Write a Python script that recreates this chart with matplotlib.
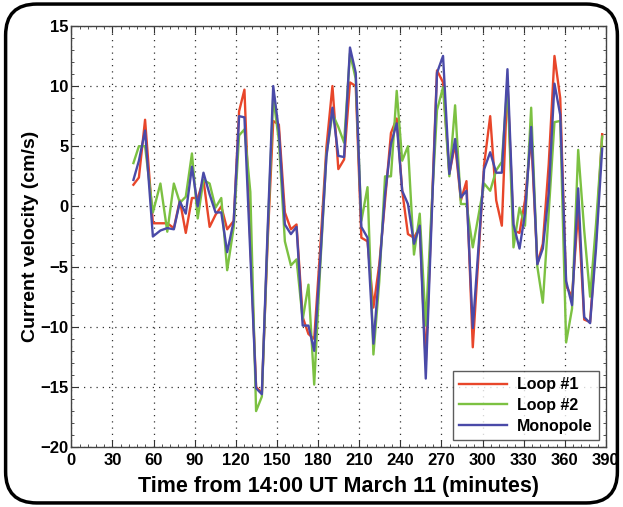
import matplotlib
matplotlib.use("Agg")
import matplotlib.pyplot as plt
from matplotlib.patches import FancyBboxPatch
from matplotlib.ticker import MultipleLocator

plt.rcParams['font.family'] = ['Liberation Sans', 'DejaVu Sans']
plt.rcParams['font.weight'] = 'bold'

time_min = [45.3, 49.3, 53.8, 59.5, 65.0, 70.0, 74.8, 79.2, 83.5, 88.0,
            92.2, 96.4, 100.9, 105.2, 109.4, 113.7, 118.5, 122.4, 126.3, 130.6,
            134.8, 139.0, 143.2, 147.3, 151.4, 155.8, 160.2, 164.3, 168.8, 173.0,
            177.2, 181.6, 186.1, 190.5, 194.8, 199.0, 203.3, 207.5, 211.6, 216.1,
            220.4, 224.7, 228.9, 233.2, 237.4, 241.4, 245.6, 250.0, 254.2, 258.6,
            262.7, 266.8, 271.2, 275.8, 280.0, 284.2, 288.3, 292.9, 297.0, 301.2,
            305.6, 310.0, 314.1, 318.2, 322.6, 327.0, 331.0, 335.5, 340.0, 344.0,
            348.3, 352.5, 356.7, 361.0, 365.3, 369.8, 374.2, 378.5, 382.8, 387.3]

loop1 = [1.8, 2.4, 7.2, -1.4, -1.4, -1.4, -1.8, 0.5, -2.2, 0.7,
         0.7, 2.2, -1.7, -0.7, 0.0, -1.9, -1.2, 7.9, 9.7, -3.0,
         -15.0, -15.5, -3.0, 7.1, 6.8, -0.5, -1.9, -1.5, -9.2, -10.6,
         -11.0, -3.5, 4.9, 10.0, 3.1, 3.9, 10.3, 10.0, -2.6, -2.9,
         -8.4, -4.8, 0.5, 6.1, 7.3, 1.3, -2.3, -2.6, -1.7, -13.0,
         -1.0, 11.3, 10.3, 2.7, 5.2, 0.5, 2.1, -11.7, -4.2, 3.5,
         7.5, 0.5, -1.6, 10.4, -2.0, -2.2, 0.5, 5.8, -4.8, -3.1,
         3.5, 12.5, 9.0, -6.6, -7.5, -0.3, -9.4, -9.6, -2.8, 6.0]

loop2 = [3.6, 5.0, 5.0, -0.5, 1.9, -2.1, 1.9, 0.3, 0.8, 4.4,
         -1.0, 2.2, 1.9, -0.1, 0.7, -5.3, -1.7, 5.9, 6.4, 1.2,
         -17.0, -15.8, -2.5, 9.1, 5.5, -2.9, -4.9, -4.4, -9.4, -6.5,
         -14.8, -5.0, 4.3, 7.7, 6.6, 5.3, 12.7, 10.6, -1.2, 1.6,
         -12.3, -6.2, 2.5, 2.5, 9.6, 3.8, 5.0, -4.0, -0.6, -9.9,
         -0.5, 8.0, 9.9, 2.5, 8.4, 0.2, 0.2, -3.4, -0.8, 1.9,
         1.3, 3.0, 3.7, 10.2, -3.4, -0.1, -1.6, 8.2, -5.0, -8.0,
         -0.5, 7.0, 7.1, -11.3, -8.5, 4.7, -2.0, -7.5, -1.5, 5.8]

monopole = [2.2, 3.8, 6.3, -2.5, -2.0, -1.8, -1.9, 0.4, -0.6, 3.3,
            0.0, 2.8, 1.0, -0.5, -0.5, -3.8, -1.2, 7.5, 7.4, -4.0,
            -15.1, -15.6, -2.0, 10.0, 6.3, -1.5, -2.3, -1.7, -9.9, -9.9,
            -12.0, -4.5, 4.1, 8.2, 4.2, 4.1, 13.2, 11.1, -1.7, -2.6,
            -11.4, -5.3, 1.0, 5.2, 6.9, 1.3, 0.2, -3.1, -1.6, -14.3,
            -1.6, 11.1, 12.5, 2.7, 5.6, 0.75, 1.3, -10.1, -3.5, 3.1,
            4.5, 2.8, 2.8, 11.4, -1.5, -3.5, -0.6, 6.6, -4.8, -3.5,
            1.1, 10.2, 7.6, -6.2, -8.2, 1.5, -9.2, -9.7, -3.5, 4.8]

series_names = ["Loop #1", "Loop #2", "Monopole"]
series_colors = ["#e8462a", "#7cc142", "#4a4aa8"]

x_ticks = list(range(0, 391, 30))
y_ticks = list(range(-20, 16, 5))

fig = plt.figure(figsize=(6.23, 5.07), dpi=100)
fig.patch.set_facecolor("white")
ax = fig.add_axes([0.1145, 0.118, 0.858, 0.831])

for vals, name, col in zip([loop1, loop2, monopole], series_names, series_colors):
    ax.plot(time_min, vals, color=col, lw=1.7, label=name)

ax.set_xlim(0, 390)
ax.set_ylim(-20, 15)
ax.set_xticks(x_ticks)
ax.set_yticks(y_ticks)
ax.xaxis.set_minor_locator(MultipleLocator(6))
ax.yaxis.set_minor_locator(MultipleLocator(1))
ax.tick_params(which='both', direction='in', top=True, right=True, colors='#333333')
ax.tick_params(which='major', length=5, labelsize=12, labelcolor='black')
ax.tick_params(axis='x', which='major', pad=4)
ax.tick_params(axis='y', which='major', pad=2)
ax.tick_params(which='minor', length=2)
for lab in ax.get_xticklabels() + ax.get_yticklabels():
    lab.set_fontweight('bold')
ax.grid(True, which='major', linestyle=(0, (1, 4)), color='#333333', lw=0.9)
for sp in ax.spines.values():
    sp.set_color('#444444')
    sp.set_linewidth(1.0)

ax.set_xlabel("Time from 14:00 UT March 11 (minutes)", fontsize=15.5, fontweight='bold', labelpad=6)
ax.set_ylabel("Current velocity (cm/s)", fontsize=14, fontweight='bold', labelpad=1)

leg = ax.legend(loc='lower right', fontsize=11.5, frameon=True, fancybox=False,
                edgecolor='#333333', handlelength=3.0, borderaxespad=0.45,
                labelspacing=0.35, handletextpad=0.6, borderpad=0.4)
leg.get_frame().set_linewidth(1.0)
for t in leg.get_texts():
    t.set_fontweight('bold')

border = FancyBboxPatch((0.009, 0.008), 0.982, 0.984,
                        boxstyle="round,pad=0,rounding_size=0.05",
                        transform=fig.transFigure, fill=False,
                        edgecolor='black', lw=2.5, mutation_aspect=623/507)
fig.patches.append(border)

fig.savefig("out.png", dpi=100)
